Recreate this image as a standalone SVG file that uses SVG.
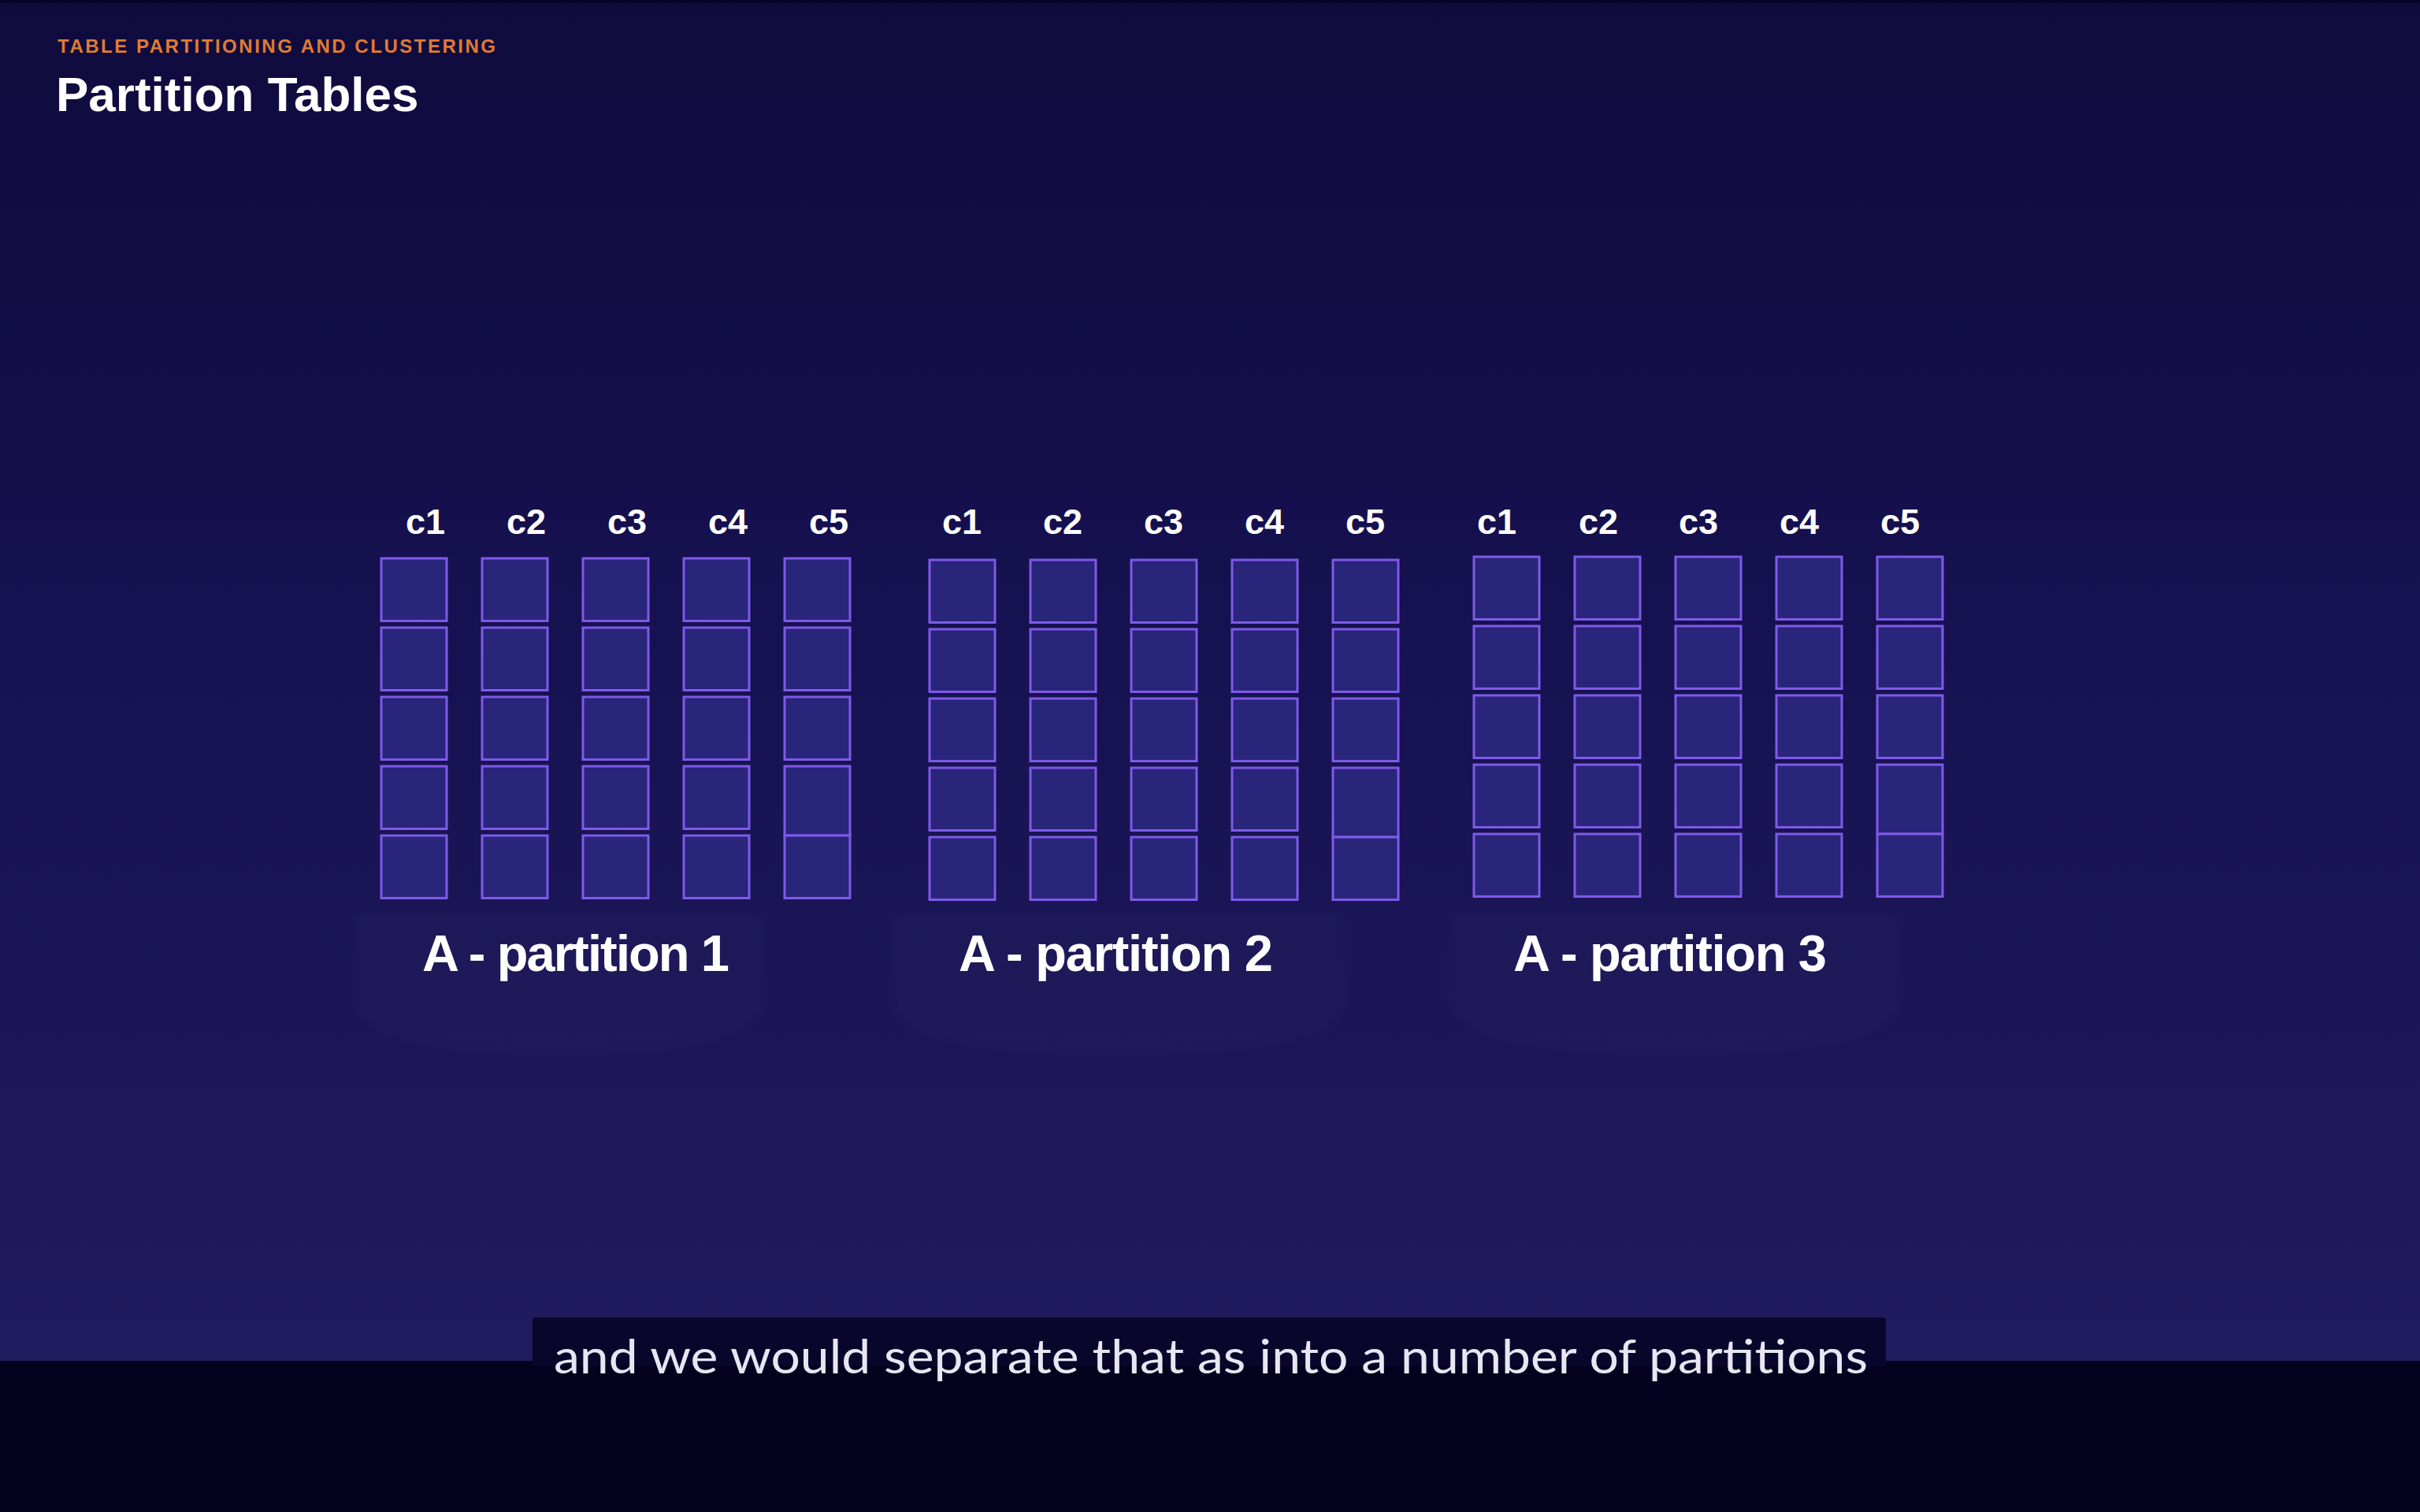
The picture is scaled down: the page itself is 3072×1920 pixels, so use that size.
<svg xmlns="http://www.w3.org/2000/svg" xmlns:xlink="http://www.w3.org/1999/xlink" width="3072" height="1920" viewBox="0 0 3072 1920">
<defs>
<linearGradient id="bg" x1="0" y1="0" x2="0" y2="1">
<stop offset="0" stop-color="#0f0b3d"/>
<stop offset="0.45" stop-color="#161150"/>
<stop offset="1" stop-color="#211b5f"/>
</linearGradient>
<filter id="soft" x="-10%" y="-10%" width="120%" height="120%"><feGaussianBlur stdDeviation="6"/></filter>
<rect id="cell" x="0" y="0" width="83" height="79.5" class="cell"/>
<rect id="cellTall" x="0" y="0" width="83" height="88" class="cell"/>
<style>
.cell{fill:#29257a;stroke:#7e5ae8;stroke-width:3}
.col{font-family:"Liberation Sans",Arial,sans-serif;font-weight:bold;font-size:45px;fill:#ffffff;text-anchor:middle}
.plabel{font-family:"Liberation Sans",Arial,sans-serif;font-weight:bold;font-size:65px;fill:#ffffff}
.ghost{fill:#ffffff;fill-opacity:0.012;stroke:#ffffff;stroke-opacity:0.012;stroke-width:2}
</style>
</defs>
<rect x="0" y="0" width="3072" height="1728" fill="url(#bg)"/>
<rect x="0" y="0" width="3072" height="4" fill="#07052a"/>

<g id="header">
<text x="73" y="67" font-family="'Liberation Sans',Arial,sans-serif" font-weight="bold" font-size="24" fill="#e07b33" textLength="556" lengthAdjust="spacing">TABLE PARTITIONING AND CLUSTERING</text>
<text x="71" y="141" font-family="'Liberation Sans',Arial,sans-serif" font-weight="bold" font-size="62" fill="#ffffff">Partition Tables</text>
</g>

<g id="ghosts" filter="url(#soft)">
<path class="ghost" d="M452 1160 H968 V1268 Q968 1335 710 1335 Q452 1335 452 1268 Z"/>
<path class="ghost" d="M1134 1160 H1706 V1268 Q1706 1335 1420 1335 Q1134 1335 1134 1268 Z"/>
<path class="ghost" d="M1842 1160 H2410 V1268 Q2410 1335 2126 1335 Q1842 1335 1842 1268 Z"/>
</g>

<g id="partition1">
<text class="col" x="540" y="678">c1</text>
<text class="col" x="668" y="678">c2</text>
<text class="col" x="796" y="678">c3</text>
<text class="col" x="924" y="678">c4</text>
<text class="col" x="1052" y="678">c5</text>
<use href="#cell" x="484" y="709"/><use href="#cell" x="484" y="797"/><use href="#cell" x="484" y="885"/><use href="#cell" x="484" y="973"/><use href="#cell" x="484" y="1061"/>
<use href="#cell" x="612" y="709"/><use href="#cell" x="612" y="797"/><use href="#cell" x="612" y="885"/><use href="#cell" x="612" y="973"/><use href="#cell" x="612" y="1061"/>
<use href="#cell" x="740" y="709"/><use href="#cell" x="740" y="797"/><use href="#cell" x="740" y="885"/><use href="#cell" x="740" y="973"/><use href="#cell" x="740" y="1061"/>
<use href="#cell" x="868" y="709"/><use href="#cell" x="868" y="797"/><use href="#cell" x="868" y="885"/><use href="#cell" x="868" y="973"/><use href="#cell" x="868" y="1061"/>
<use href="#cell" x="996" y="709"/><use href="#cell" x="996" y="797"/><use href="#cell" x="996" y="885"/><use href="#cellTall" x="996" y="973"/><use href="#cell" x="996" y="1061"/>
<text class="plabel" x="536" y="1233" textLength="390" lengthAdjust="spacing">A - partition 1</text>
</g>

<g id="partition2">
<text class="col" x="1221" y="678">c1</text>
<text class="col" x="1349" y="678">c2</text>
<text class="col" x="1477" y="678">c3</text>
<text class="col" x="1605" y="678">c4</text>
<text class="col" x="1733" y="678">c5</text>
<use href="#cell" x="1180" y="711"/><use href="#cell" x="1180" y="799"/><use href="#cell" x="1180" y="887"/><use href="#cell" x="1180" y="975"/><use href="#cell" x="1180" y="1063"/>
<use href="#cell" x="1308" y="711"/><use href="#cell" x="1308" y="799"/><use href="#cell" x="1308" y="887"/><use href="#cell" x="1308" y="975"/><use href="#cell" x="1308" y="1063"/>
<use href="#cell" x="1436" y="711"/><use href="#cell" x="1436" y="799"/><use href="#cell" x="1436" y="887"/><use href="#cell" x="1436" y="975"/><use href="#cell" x="1436" y="1063"/>
<use href="#cell" x="1564" y="711"/><use href="#cell" x="1564" y="799"/><use href="#cell" x="1564" y="887"/><use href="#cell" x="1564" y="975"/><use href="#cell" x="1564" y="1063"/>
<use href="#cell" x="1692" y="711"/><use href="#cell" x="1692" y="799"/><use href="#cell" x="1692" y="887"/><use href="#cellTall" x="1692" y="975"/><use href="#cell" x="1692" y="1063"/>
<text class="plabel" x="1217" y="1233" textLength="399" lengthAdjust="spacing">A - partition 2</text>
</g>

<g id="partition3">
<text class="col" x="1900" y="678">c1</text>
<text class="col" x="2029" y="678">c2</text>
<text class="col" x="2156" y="678">c3</text>
<text class="col" x="2284" y="678">c4</text>
<text class="col" x="2412" y="678">c5</text>
<use href="#cell" x="1871" y="707"/><use href="#cell" x="1871" y="795"/><use href="#cell" x="1871" y="883"/><use href="#cell" x="1871" y="971"/><use href="#cell" x="1871" y="1059"/>
<use href="#cell" x="1999" y="707"/><use href="#cell" x="1999" y="795"/><use href="#cell" x="1999" y="883"/><use href="#cell" x="1999" y="971"/><use href="#cell" x="1999" y="1059"/>
<use href="#cell" x="2127" y="707"/><use href="#cell" x="2127" y="795"/><use href="#cell" x="2127" y="883"/><use href="#cell" x="2127" y="971"/><use href="#cell" x="2127" y="1059"/>
<use href="#cell" x="2255" y="707"/><use href="#cell" x="2255" y="795"/><use href="#cell" x="2255" y="883"/><use href="#cell" x="2255" y="971"/><use href="#cell" x="2255" y="1059"/>
<use href="#cell" x="2383" y="707"/><use href="#cell" x="2383" y="795"/><use href="#cell" x="2383" y="883"/><use href="#cellTall" x="2383" y="971"/><use href="#cell" x="2383" y="1059"/>
<text class="plabel" x="1921" y="1233" textLength="398" lengthAdjust="spacing">A - partition 3</text>
</g>

<g id="connectors"></g>

<g id="subtitle">
<rect x="0" y="1728" width="3072" height="192" fill="#03011d"/>
<rect x="676" y="1673" width="1718" height="62" rx="4" fill="#08062b"/>
<text x="703" y="1744" font-family="Lato,'Noto Sans',sans-serif" font-size="60" fill="#e8e6f2" textLength="1668" lengthAdjust="spacingAndGlyphs">and we would separate that as into a number of partitions</text>
</g>
</svg>
